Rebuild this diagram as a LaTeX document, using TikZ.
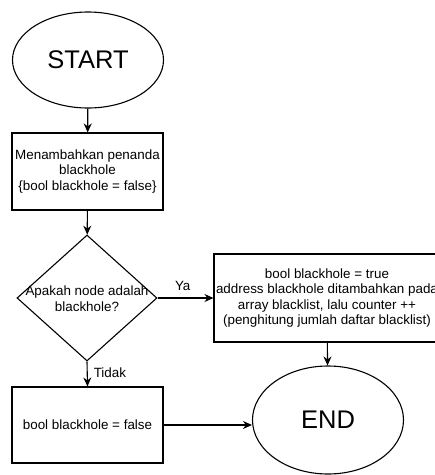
\documentclass[tikz,border=0pt]{standalone}
\usepackage{fontspec}
\setmainfont{Liberation Sans}
\usetikzlibrary{shapes.geometric,arrows.meta}
\begin{document}
\begin{tikzpicture}[x=1pt,y=-1pt,
  line width=1.1pt,
  every node/.style={inner sep=0pt, align=center},
  small/.style={font=\fontsize{13.4}{15.6}\selectfont},
  big/.style={font=\fontsize{25.5}{30}\selectfont},
  terminal/.style={draw, ellipse, minimum width=151pt, minimum height=96pt, big},
  proc/.style={draw, rectangle, small},
  decision/.style={draw, diamond, minimum width=140pt, minimum height=126pt},
  flow/.style={-{Stealth[length=9pt,width=8pt]}},
  lbl/.style={small}
]
\useasboundingbox (0,0) rectangle (435,475);

% terminals
\node[terminal] (start) at (88,60) {START};
\node[terminal, minimum height=108pt] (end) at (328,420) {END};

% process steps
\node[proc, minimum width=151pt, minimum height=77pt] (mark) at (87.5,171.5)
  {Menambahkan penanda\\blackhole\\\{bool blackhole = false\}};
\node[decision] (dec) at (87,298) {};
\node[small] (dectext) at (87,298.5) {Apakah node adalah\\blackhole?};
\node[proc, minimum width=226pt, minimum height=88pt] (yes) at (327,298)
  {bool blackhole = true\\address blackhole ditambahkan pada\\array blacklist, lalu counter ++\\(penghitung jumlah daftar blacklist)};
\node[proc, minimum width=151pt, minimum height=76pt] (no) at (87.5,425)
  {bool blackhole = false};

% connectors
\draw[flow] (start) -- (mark);
\draw[flow] (mark) -- (dec);
\draw[flow] (dec.east) -- node[lbl, above=7pt, pos=0.45] (ya) {Ya} (yes.west |- dec.east);
\draw[flow] (dec.south) -- node[lbl, right=6pt, pos=0.45] (tidak) {Tidak} (no.north);
\draw[flow] (yes) -- (end);
\draw[flow] (no.east) -- (no.east -| end.west);
\end{tikzpicture}
\end{document}
